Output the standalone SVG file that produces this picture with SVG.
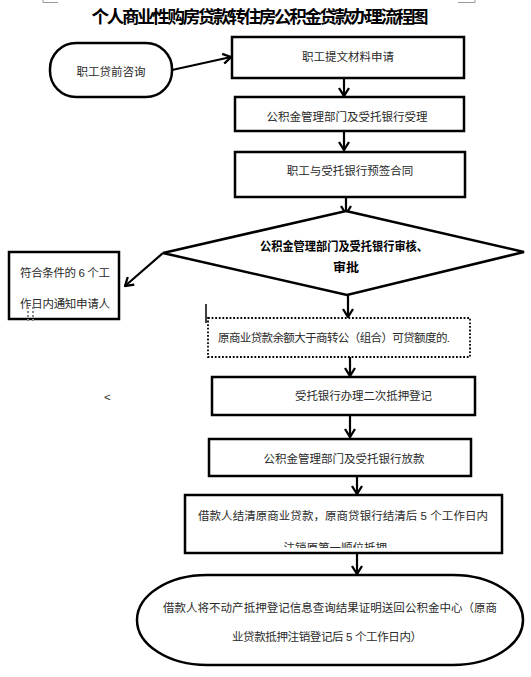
<svg xmlns="http://www.w3.org/2000/svg" width="531" height="677" viewBox="0 0 531 677">
<defs>
<style>
.n{fill:#fff;stroke:#000;stroke-width:2.5}
.t{font-family:"Liberation Sans","Noto Sans CJK SC",sans-serif;font-size:11.5px;fill:#2a2a2a}
.b{font-family:"Liberation Sans","Noto Sans CJK SC",sans-serif;font-weight:bold;fill:#000}
.c{fill:none;stroke:#000;stroke-width:2.2}
</style>
<marker id="ah" viewBox="0 0 10 12" refX="9" refY="6" markerWidth="10" markerHeight="12" markerUnits="userSpaceOnUse" orient="auto">
<path d="M1,1 L9,6 L1,11" fill="none" stroke="#000" stroke-width="2.3"/>
</marker>
<clipPath id="clip7"><rect x="185" y="495" width="317" height="53"/></clipPath>
</defs>
<rect width="531" height="677" fill="#fff"/>
<g id="marks" stroke="#999" stroke-width="1" fill="none">
<path d="M43,0 V2.5 H58"/>
<path d="M458,2.5 H475 V0"/>
</g>
<text class="b" x="260" y="23" font-size="17.5" text-anchor="middle" textLength="337" lengthAdjust="spacing">个人商业性购房贷款转住房公积金贷款办理流程图</text>

<g id="connectors">
<line class="c" x1="172" y1="70" x2="231" y2="57" marker-end="url(#ah)"/>
<line class="c" x1="344" y1="79" x2="344" y2="96" marker-end="url(#ah)"/>
<line class="c" x1="344" y1="131" x2="344" y2="150" marker-end="url(#ah)"/>
<line class="c" x1="346" y1="197" x2="346" y2="214" marker-end="url(#ah)"/>
<line class="c" x1="163" y1="253" x2="125" y2="286" marker-end="url(#ah)"/>
<line class="c" x1="348" y1="295" x2="348" y2="317" marker-end="url(#ah)"/>
<line class="c" x1="350" y1="357" x2="350" y2="376" marker-end="url(#ah)"/>
<line class="c" x1="350" y1="416" x2="350" y2="437" marker-end="url(#ah)"/>
<line class="c" x1="357" y1="477" x2="357" y2="494" marker-end="url(#ah)"/>
<line class="c" x1="357" y1="554" x2="357" y2="574" marker-end="url(#ah)"/>
</g>

<g id="n1">
<rect class="n" x="50" y="43" width="122" height="54" rx="26" ry="26"/>
<text class="t" x="111" y="76" text-anchor="middle">职工贷前咨询</text>
</g>
<g id="n2">
<rect class="n" x="232" y="37" width="232" height="41"/>
<text class="t" x="348" y="61" text-anchor="middle">职工提文材料申请</text>
</g>
<g id="n3">
<rect class="n" x="235" y="97" width="229" height="34"/>
<text class="t" x="347" y="121" text-anchor="middle">公积金管理部门及受托银行受理</text>
</g>
<g id="n4">
<rect class="n" x="235" y="152" width="230" height="45"/>
<text class="t" x="350" y="175" text-anchor="middle">职工与受托银行预签合同</text>
</g>
<g id="n5">
<polygon class="n" points="346,211 524,252 347,295 163,253"/>
<text class="b" x="344" y="251" font-size="12.5" text-anchor="middle" textLength="168" lengthAdjust="spacingAndGlyphs">公积金管理部门及受托银行审核、</text>
<text class="b" x="346" y="272" font-size="12.5" text-anchor="middle" textLength="26" lengthAdjust="spacingAndGlyphs">审批</text>
</g>
<g id="n6">
<rect class="n" x="9" y="252" width="110" height="67"/>
<text class="t" x="20" y="277" textLength="90" lengthAdjust="spacing">符合条件的 6 个工</text>
<text class="t" x="20" y="308" textLength="90" lengthAdjust="spacing">作日内通知申请人</text>
<g fill="#888">
<rect x="27" y="307" width="2" height="2"/><rect x="32" y="307" width="2" height="2"/>
<rect x="27" y="311" width="2" height="2"/><rect x="32" y="311" width="2" height="2"/>
<rect x="27" y="315" width="2" height="2"/><rect x="32" y="315" width="2" height="2"/>
<rect x="27" y="319" width="2" height="2"/><rect x="32" y="319" width="2" height="2"/>
</g>
</g>
<line x1="206" y1="304" x2="206" y2="323" stroke="#000" stroke-width="1.5"/>
<g id="n7">
<rect x="208" y="318" width="262" height="39" fill="#fff" stroke="#000" stroke-width="1.8" stroke-dasharray="1.8,1.8"/>
<text class="t" x="218" y="342" textLength="232" lengthAdjust="spacing">原商业贷款余额大于商转公（组合）可贷额度的.</text>
</g>
<text class="t" x="104" y="401" font-size="9">&lt;</text>
<g id="n8">
<rect class="n" x="212" y="377" width="263" height="38"/>
<text class="t" x="295" y="400" textLength="137" lengthAdjust="spacing">受托银行办理二次抵押登记</text>
</g>
<g id="n9">
<rect class="n" x="209" y="439" width="262" height="37"/>
<text class="t" x="344" y="463" text-anchor="middle">公积金管理部门及受托银行放款</text>
</g>
<g id="n10">
<rect class="n" x="185" y="495" width="317" height="58"/>
<text class="t" x="198" y="520" textLength="290" lengthAdjust="spacing">借款人结清原商业贷款，原商贷银行结清后 5 个工作日内</text>
<text class="t" x="341" y="552" text-anchor="middle" clip-path="url(#clip7)">注销原第一顺位抵押。</text>
</g>
<g id="n11">
<rect class="n" x="137" y="575" width="386" height="90" rx="70" ry="45"/>
<text class="t" x="163" y="612" textLength="334" lengthAdjust="spacing">借款人将不动产抵押登记信息查询结果证明送回公积金中心（原商</text>
<text class="t" x="232" y="641" textLength="190" lengthAdjust="spacing">业贷款抵押注销登记后 5 个工作日内）</text>
</g>
</svg>
